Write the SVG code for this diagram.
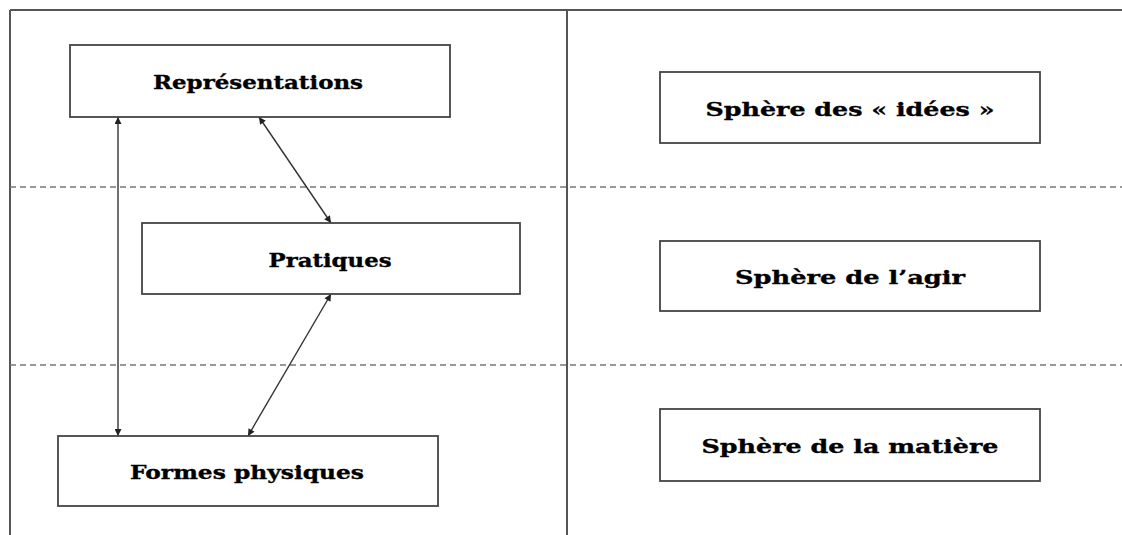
<svg xmlns="http://www.w3.org/2000/svg" width="1122" height="535" viewBox="0 0 1122 535">
<style>
.frame{stroke:#555;stroke-width:2;fill:none}
.dash{stroke:#777;stroke-width:1.5;stroke-dasharray:6 4;fill:none}
.box{fill:#fff;stroke:#444;stroke-width:1.8}
.lbl{font-family:"DejaVu Serif","Liberation Serif",serif;font-weight:bold;font-size:19px;fill:#000;stroke:#000;stroke-width:0.35;text-anchor:middle}
.conn{stroke:#333;stroke-width:1.4;fill:none;marker-start:url(#ah);marker-end:url(#ah)}
</style>
<defs>
<marker id="ah" viewBox="0 0 10 10" refX="10" refY="5" markerWidth="8" markerHeight="7" markerUnits="userSpaceOnUse" orient="auto-start-reverse">
<path d="M0,0 L10,5 L0,10 z" fill="#222"/>
</marker>
</defs>
<rect width="1122" height="535" fill="#fff"/>
<g id="frame">
<line class="frame" x1="10" y1="10" x2="1122" y2="10"/>
<line class="frame" x1="10" y1="10" x2="10" y2="535"/>
<line class="frame" x1="567" y1="10" x2="567" y2="535"/>
<line class="dash" x1="10" y1="187" x2="1122" y2="187"/>
<line class="dash" x1="10" y1="365" x2="1122" y2="365"/>
</g>
<g id="connectors">
<line class="conn" x1="118" y1="117" x2="118" y2="436"/>
<line class="conn" x1="259" y1="117" x2="331" y2="223"/>
<line class="conn" x1="331" y1="294" x2="248" y2="436"/>
</g>
<g id="representations">
<rect class="box" x="70" y="45" width="380" height="72"/>
<text class="lbl" x="258" y="89" textLength="210" lengthAdjust="spacingAndGlyphs">Représentations</text>
</g>
<g id="pratiques">
<rect class="box" x="142" y="223" width="378" height="71"/>
<text class="lbl" x="330" y="267" textLength="123" lengthAdjust="spacingAndGlyphs">Pratiques</text>
</g>
<g id="formes">
<rect class="box" x="58" y="436" width="380" height="70"/>
<text class="lbl" x="247" y="479" textLength="234" lengthAdjust="spacingAndGlyphs">Formes physiques</text>
</g>
<g id="sphere-idees">
<rect class="box" x="660" y="72" width="380" height="71"/>
<text class="lbl" x="850" y="116" textLength="289" lengthAdjust="spacingAndGlyphs">Sphère des « idées »</text>
</g>
<g id="sphere-agir">
<rect class="box" x="660" y="241" width="380" height="70"/>
<text class="lbl" x="850" y="284" textLength="230" lengthAdjust="spacingAndGlyphs">Sphère de l’agir</text>
</g>
<g id="sphere-matiere">
<rect class="box" x="660" y="409" width="380" height="72"/>
<text class="lbl" x="850" y="453" textLength="297" lengthAdjust="spacingAndGlyphs">Sphère de la matière</text>
</g>
</svg>
